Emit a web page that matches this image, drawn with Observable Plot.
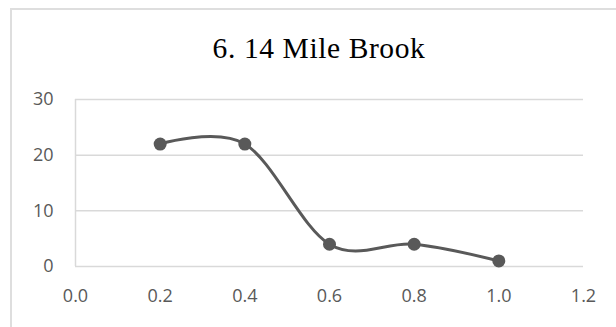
<!DOCTYPE html>
<html>
<head>
<meta charset="utf-8">
<script src="https://cdn.jsdelivr.net/npm/d3@7"></script>
<script src="https://cdn.jsdelivr.net/npm/@observablehq/plot@0.6"></script>
<style>
  html, body { margin: 0; padding: 0; background: #fff; }
  #chart { position: relative; width: 616px; height: 327px; overflow: hidden; background: #fff; }
  #frame { position: absolute; left: 10px; top: 8px; width: 640px; height: 340px;
           border: 2px solid #dedede; box-sizing: border-box; }
  #title { position: absolute; left: 0; top: 33.6px; width: 638px; text-align: center;
           font-family: "Liberation Serif", "Times New Roman", serif; font-size: 29.5px;
           line-height: 1; letter-spacing: 0.6px; color: #000; white-space: nowrap; }
  #plot { position: absolute; left: 0; top: 0; }
</style>
</head>
<body>
<div id="chart">
  <div id="frame"></div>
  <div id="title">6. 14 Mile Brook</div>
  <div id="plot"></div>
</div>
<script>
// Distance along the brook and the measured values
const distance = [0.2, 0.4, 0.6, 0.8, 1.0];
const values = [22, 22, 4, 4, 1];

// Axis ticks
const xTicks = [0, 0.2, 0.4, 0.6, 0.8, 1.0, 1.2];
const yTicks = [0, 10, 20, 30];

const data = distance.map((d, i) => ({x: d, y: values[i]}));

const gridColor = "#d9d9d9";
const seriesColor = "#595959";
const labelColor = "#595959";

const chart = Plot.plot({
  width: 616,
  height: 327,
  marginLeft: 75,
  marginRight: 33,
  marginTop: 99,
  marginBottom: 61,
  style: {fontFamily: "'Open Sans', sans-serif", fontSize: "18px", color: labelColor, background: "transparent"},
  x: {domain: [0, 1.2]},
  y: {domain: [0, 30]},
  marks: [
    Plot.gridY(yTicks, {stroke: gridColor, strokeOpacity: 1, strokeWidth: 1.5}),
    Plot.ruleX([0], {stroke: gridColor, strokeWidth: 1.5}),
    Plot.axisX(xTicks, {tickSize: 0, tickPadding: 23, label: null, tickFormat: d => d.toFixed(1), fill: labelColor, letterSpacing: "1.2px"}),
    Plot.axisY(yTicks, {tickSize: 0, tickPadding: 22, label: null, fill: labelColor, letterSpacing: "1.2px"}),
    Plot.line(data, {x: "x", y: "y", curve: "cardinal", stroke: seriesColor, strokeWidth: 3}),
    Plot.dot(data, {x: "x", y: "y", r: 6.5, fill: seriesColor, stroke: "none"})
  ]
});

document.getElementById("plot").appendChild(chart);
</script>
</body>
</html>
